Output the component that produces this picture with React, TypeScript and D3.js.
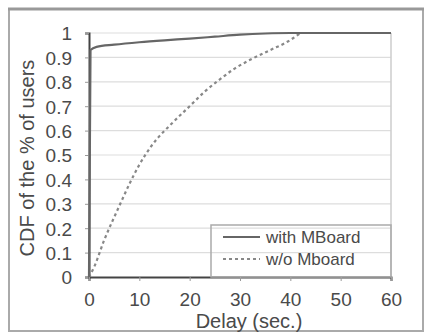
import * as d3 from "d3";
import { useEffect, useRef } from "react";

// delay in seconds, CDF value
const withX = [0, 0.3, 1.5, 5, 10, 15, 20, 25, 30, 35, 40, 60];
const withY = [0, 0.93, 0.943, 0.952, 0.962, 0.97, 0.977, 0.985, 0.993, 0.998, 1, 1];
const woX = [0, 1, 3, 6, 8, 10, 12.5, 16.5, 20, 23, 26, 29, 32, 36, 39.5, 42];
const woY = [0, 0.04, 0.15, 0.29, 0.38, 0.46, 0.54, 0.63, 0.70, 0.76, 0.81, 0.855, 0.89, 0.93, 0.965, 1];
const xTicks = [0, 10, 20, 30, 40, 50, 60];
const yTicks = [0, 0.1, 0.2, 0.3, 0.4, 0.5, 0.6, 0.7, 0.8, 0.9, 1];
const seriesNames = ["with MBoard", "w/o Mboard"];

export default function App() {
  const ref = useRef<SVGSVGElement>(null);

  useEffect(() => {
    const svg = d3.select(ref.current);
    svg.selectAll("*").remove();
    const font = "'Liberation Sans', Arial, sans-serif";
    const textColor = "#4a4a4a";

    const x = d3.scaleLinear().domain([0, 60]).range([89, 391]);
    const y = d3.scaleLinear().domain([0, 1]).range([277, 33]);

    // outer frame
    svg.append("rect").attr("x", 9).attr("y", 9).attr("width", 414).attr("height", 322)
      .attr("fill", "white").attr("stroke", "#aaa").attr("stroke-width", 2);
    svg.append("line").attr("x1", 8).attr("x2", 424).attr("y1", 9).attr("y2", 9)
      .attr("stroke", "#999").attr("stroke-width", 3);

    // gridlines
    svg.append("g").selectAll("line").data(yTicks.slice(1)).join("line")
      .attr("x1", x(0)).attr("x2", x(60)).attr("y1", d => y(d)).attr("y2", d => y(d))
      .attr("stroke", "#ddd").attr("stroke-width", 1.2);
    svg.append("line").attr("x1", x(60)).attr("x2", x(60)).attr("y1", y(1)).attr("y2", y(0))
      .attr("stroke", "#ccc").attr("stroke-width", 1.5);

    // axes
    const yAxis = svg.append("g").attr("transform", `translate(${x(0)},0)`)
      .call(d3.axisLeft(y).tickValues(yTicks).tickSize(4).tickFormat(d => d3.format("")(+d)));
    const xAxis = svg.append("g").attr("transform", `translate(0,${y(0)})`)
      .call(d3.axisBottom(x).tickValues(xTicks).tickSize(4));
    [xAxis, yAxis].forEach(g => {
      g.select(".domain").attr("stroke", "#444").attr("stroke-width", 2);
      g.selectAll(".tick line").attr("stroke", "#999");
      g.selectAll("text").attr("fill", textColor).attr("font-family", font).attr("font-size", 19);
    });
    yAxis.selectAll("text").attr("x", -17).attr("dy", "0.36em");
    xAxis.selectAll("text").attr("y", 16);

    const line = d3.line<[number, number]>().x(d => x(d[0])).y(d => y(d[1])).curve(d3.curveMonotoneX);
    svg.append("path").datum(woX.map((v, i) => [v, woY[i]] as [number, number]))
      .attr("d", line).attr("fill", "none").attr("stroke", "#888")
      .attr("stroke-width", 2.2).attr("stroke-dasharray", "3,3");
    svg.append("path").datum(withX.map((v, i) => [v, withY[i]] as [number, number]))
      .attr("d", line).attr("fill", "none").attr("stroke", "#666").attr("stroke-width", 2.2);

    // legend
    const lg = svg.append("g");
    lg.append("rect").attr("x", 211).attr("y", 225).attr("width", 180).attr("height", 52)
      .attr("fill", "none").attr("stroke", "#aaa").attr("stroke-width", 1.5);
    seriesNames.forEach((name, i) => {
      const ly = 237 + i * 22;
      lg.append("line").attr("x1", 223).attr("x2", 260).attr("y1", ly).attr("y2", ly)
        .attr("stroke", i === 0 ? "#666" : "#888").attr("stroke-width", 2)
        .attr("stroke-dasharray", i === 0 ? null : "3,3");
      lg.append("text").attr("x", 266).attr("y", ly).attr("dy", "0.35em")
        .attr("font-family", font).attr("font-size", 17).attr("fill", textColor).text(name);
    });

    // axis titles
    svg.append("text").attr("x", 249).attr("y", 328).attr("text-anchor", "middle")
      .attr("font-family", font).attr("font-size", 20).attr("fill", textColor).text("Delay (sec.)");
    svg.append("text").attr("transform", "translate(34,158) rotate(-90)").attr("text-anchor", "middle")
      .attr("font-family", font).attr("font-size", 20).attr("fill", textColor).text("CDF of the % of users");
  }, []);

  return (
    <svg ref={ref} width={426} height={334}
      style={{ position: "absolute", left: 0, top: 0, background: "white" }} />
  );
}
